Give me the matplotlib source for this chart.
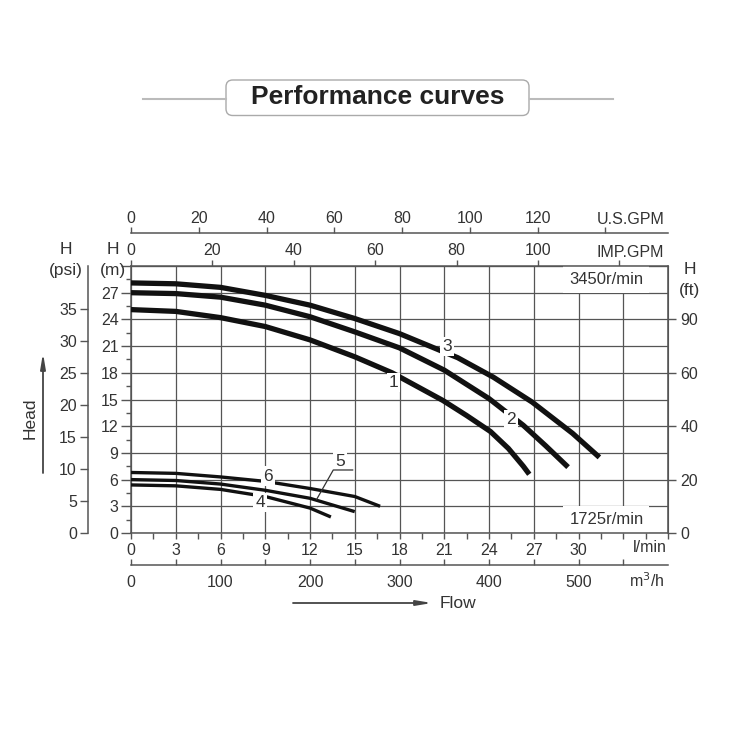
import matplotlib
matplotlib.use('Agg')
import matplotlib.pyplot as plt
from matplotlib.patches import FancyBboxPatch
from matplotlib.lines import Line2D

plt.rcParams['font.family'] = ['Liberation Sans', 'DejaVu Sans']

# flow on main x axis, head in metres
c1_x = [0, 3, 6, 9, 12, 15, 17.5, 20.9, 22.5, 24.1, 25.3, 26.3, 26.7]
c1_h = [25.1, 24.9, 24.2, 23.2, 21.7, 19.8, 18.0, 14.9, 13.2, 11.4, 9.5, 7.5, 6.6]
c2_x = [0, 3, 6, 9, 12, 15, 18, 21, 24, 26.3, 27.8, 29.3]
c2_h = [27.0, 26.9, 26.5, 25.6, 24.3, 22.6, 20.8, 18.3, 15.1, 12.1, 9.8, 7.4]
c3_x = [0, 3, 6, 9, 12, 15, 18, 21.9, 24.3, 26.9, 29.6, 31.4]
c3_h = [28.1, 28.0, 27.6, 26.7, 25.6, 24.1, 22.4, 19.7, 17.5, 14.7, 11.2, 8.5]
c4_x = [0, 3, 6, 9, 12, 13.4]
c4_h = [5.4, 5.3, 4.9, 4.1, 2.8, 1.8]
c5_x = [0, 3, 6, 9, 12, 15]
c5_h = [6.0, 5.9, 5.5, 4.8, 3.9, 2.4]
c6_x = [0, 3, 6, 9, 12, 15, 16.7]
c6_h = [6.8, 6.7, 6.3, 5.8, 5.0, 4.1, 3.0]

flow_ticks = [0, 3, 6, 9, 12, 15, 18, 21, 24, 27, 30, 33, 36]
head_ticks = [0, 3, 6, 9, 12, 15, 18, 21, 24, 27, 30]
m3h_ticks = [0, 100, 200, 300, 400, 500, 550]
imp_ticks = [0, 20, 40, 60, 80, 100, 120]
us_ticks = [0, 20, 40, 60, 80, 100, 120, 140]
psi_ticks = [0, 5, 10, 15, 20, 25, 30, 35]
ft_ticks_m = [0, 6, 12, 18, 24]
ft_labels = ['0', '20', '40', '60', '90']

grey = '#555555'
txt = '#333333'
curve_col = '#111111'
fs = 11.5

fig = plt.figure(figsize=(7.5, 7.5), dpi=100)
ax = fig.add_axes([131 / 750, 217 / 750, 537 / 750, 267 / 750])
ax.set_xlim(0, 36)
ax.set_ylim(0, 30)
ax.set_axisbelow(True)
ax.grid(True, color=grey, lw=0.9)
for s in ax.spines.values():
    s.set_color(grey)
    s.set_linewidth(1.1)

ax.set_xticks(flow_ticks)
ax.set_xticklabels([str(t) if t <= 30 else '' for t in flow_ticks])
ax.set_xticks([t + 1.5 for t in flow_ticks[:-1]], minor=True)
ax.set_yticks(head_ticks)
ax.set_yticklabels([str(t) if t <= 27 else '' for t in head_ticks])
ax.set_yticks([t + 1.5 for t in head_ticks[:-1]], minor=True)
ax.tick_params(axis='x', which='both', direction='out', length=4, width=1, color=grey,
               labelsize=fs, labelcolor=txt, pad=3)
ax.tick_params(axis='y', which='major', direction='out', length=7, width=1, color=grey,
               labelsize=fs, labelcolor=txt, pad=2)
ax.tick_params(axis='y', which='minor', direction='out', length=3.5, width=1, color=grey)
ax.tick_params(axis='y', which='minor', grid_alpha=0)
ax.tick_params(axis='x', which='minor', grid_alpha=0)

# curves
for xs, hs in [(c1_x, c1_h), (c2_x, c2_h), (c3_x, c3_h)]:
    ax.plot(xs, hs, color=curve_col, lw=3.8, solid_capstyle='butt',
            solid_joinstyle='round', zorder=3)
for xs, hs in [(c4_x, c4_h), (c5_x, c5_h), (c6_x, c6_h)]:
    ax.plot(xs, hs, color=curve_col, lw=2.4, solid_capstyle='butt',
            solid_joinstyle='round', zorder=3)

lab_box = dict(fc='white', ec='none', pad=1.5)
for name, lx, ly in [('1', 17.6, 16.9), ('2', 25.5, 12.7), ('3', 21.2, 21.0),
                     ('4', 8.65, 3.4), ('6', 9.2, 6.4), ('5', 14.0, 8.0)]:
    ax.text(lx, ly, name, fontsize=12.5, color=txt, ha='center', va='center',
            bbox=lab_box, zorder=4)
ax.plot([14.86, 13.56, 12.45], [7.08, 7.08, 3.79], color=txt, lw=0.9, zorder=4)

speed_box = dict(fc='white', ec='none', boxstyle='square,pad=0.35')
ax.text(31.87, 28.5, '3450r/min', fontsize=12, color=txt, ha='center', va='center',
        bbox=speed_box, zorder=2)
ax.text(31.87, 1.5, '1725r/min', fontsize=12, color=txt, ha='center', va='center',
        bbox=speed_box, zorder=2)

# secondary scales
imp = ax.secondary_xaxis('top', functions=(lambda x: x * 3.666, lambda x: x / 3.666))
imp.set_xticks(imp_ticks)
imp.set_xticklabels([str(t) if t <= 100 else '' for t in imp_ticks])
imp.tick_params(direction='out', length=4, width=1, color=grey, labelsize=fs,
                labelcolor=txt, pad=2)
imp.spines['top'].set_color(grey)

us = ax.secondary_xaxis(300 / 267, functions=(lambda x: x * 4.403, lambda x: x / 4.403))
us.set_xticks(us_ticks)
us.set_xticklabels([str(t) if t <= 120 else '' for t in us_ticks])
us.tick_params(direction='out', length=4, width=1, color=grey, labelsize=fs,
               labelcolor=txt, pad=1)
us.spines['top'].set_color(grey)
us.spines['top'].set_linewidth(1.1)

m3 = ax.secondary_xaxis(-32 / 267, functions=(lambda x: x * 100 / 6, lambda x: x * 6 / 100))
m3.set_xticks(m3h_ticks)
m3.set_xticklabels([str(t) if t <= 500 else '' for t in m3h_ticks])
m3.set_xticks([50, 150, 250, 350, 450], minor=True)
m3.tick_params(which='both', direction='in', length=4, width=1, color=grey,
               labelsize=fs, labelcolor=txt, pad=7)
m3.spines['bottom'].set_color(grey)
m3.spines['bottom'].set_linewidth(1.1)

psi = ax.secondary_yaxis(-43 / 537, functions=(lambda m: m * 1.39, lambda p: p / 1.39))
psi.set_yticks(psi_ticks)
psi.tick_params(direction='out', length=6, width=1, color=grey, labelsize=fs,
                labelcolor=txt, pad=2)
psi.spines['left'].set_color(grey)
psi.spines['left'].set_linewidth(1.1)

ft = ax.secondary_yaxis('right', functions=(lambda m: m, lambda m: m))
ft.set_yticks(ft_ticks_m)
ft.set_yticklabels(ft_labels)
ft.tick_params(direction='out', length=6, width=1, color=grey, labelsize=fs,
               labelcolor=txt, pad=3)
ft.spines['right'].set_color(grey)

# unit labels
fig.text(667 / 750, 1 - 548 / 750, 'l/min', fontsize=fs, color=txt, ha='right', va='center')
fig.text(664 / 750, 1 - 581 / 750, 'm$^3$/h', fontsize=fs, color=txt, ha='right', va='center')
fig.text(597 / 750, 1 - 253 / 750, 'IMP.GPM', fontsize=fs, color=txt, ha='left', va='center')
fig.text(597 / 750, 1 - 219 / 750, 'U.S.GPM', fontsize=fs, color=txt, ha='left', va='center')
fig.text(113 / 750, 1 - 250 / 750, 'H', fontsize=12.5, color=txt, ha='center', va='center')
fig.text(113 / 750, 1 - 271 / 750, '(m)', fontsize=12.5, color=txt, ha='center', va='center')
fig.text(66 / 750, 1 - 250 / 750, 'H', fontsize=12.5, color=txt, ha='center', va='center')
fig.text(66 / 750, 1 - 271 / 750, '(psi)', fontsize=12.5, color=txt, ha='center', va='center')
fig.text(690 / 750, 1 - 270 / 750, 'H', fontsize=12.5, color=txt, ha='center', va='center')
fig.text(690 / 750, 1 - 291 / 750, '(ft)', fontsize=12.5, color=txt, ha='center', va='center')

fig.text(30 / 750, 1 - 418 / 750, 'Head', fontsize=12.5, color=txt, ha='center',
         va='center', rotation=90)
fig.text(440 / 750, 1 - 603 / 750, 'Flow', fontsize=12.5, color=txt, ha='left', va='center')
arrow = dict(arrowstyle='-|>,head_length=0.9,head_width=0.15', color='#444444', lw=1.3,
             shrinkA=0, shrinkB=0)
ax.annotate('', xy=(43 / 750, 1 - 353 / 750), xytext=(43 / 750, 1 - 473 / 750),
            xycoords='figure fraction', textcoords='figure fraction', arrowprops=arrow)
ax.annotate('', xy=(432 / 750, 1 - 603 / 750), xytext=(293 / 750, 1 - 603 / 750),
            xycoords='figure fraction', textcoords='figure fraction', arrowprops=arrow)

# title block
fig.add_artist(FancyBboxPatch((226 / 750, 1 - 115.5 / 750), 303 / 750, 35.5 / 750,
                              boxstyle='round,pad=0,rounding_size=0.009',
                              transform=fig.transFigure, fc='white', ec='#aaaaaa', lw=1))
fig.add_artist(Line2D([143 / 750, 226 / 750], [1 - 99 / 750] * 2, color='#bbbbbb', lw=1.5,
                      transform=fig.transFigure))
fig.add_artist(Line2D([530 / 750, 613 / 750], [1 - 99 / 750] * 2, color='#bbbbbb', lw=1.5,
                      transform=fig.transFigure))
fig.text(378 / 750, 1 - 97.5 / 750, 'Performance curves', fontsize=19, fontweight='bold',
         color='#222222', ha='center', va='center')

fig.savefig('out.png', dpi=100, facecolor='white')
